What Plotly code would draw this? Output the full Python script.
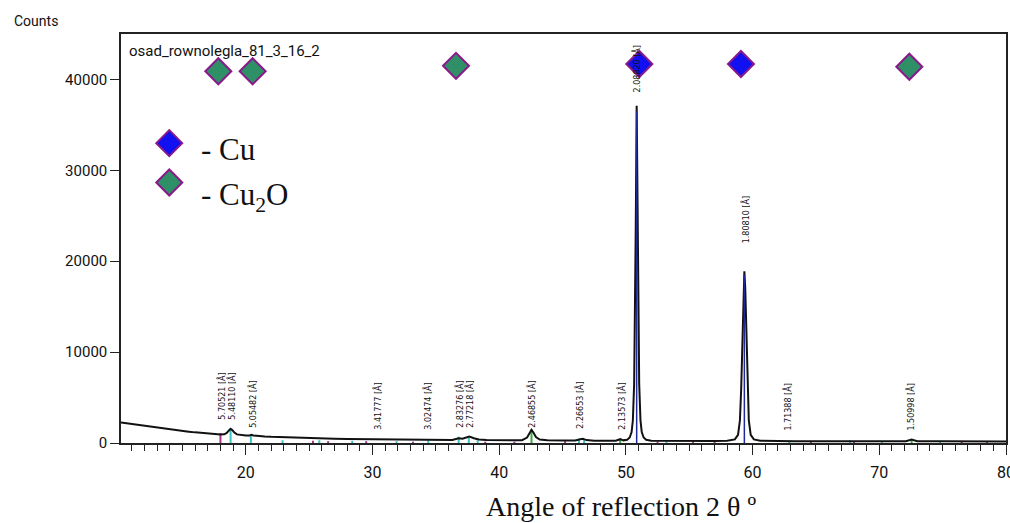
import plotly.graph_objects as go

# ---------------- data ----------------
two_theta = [10.15, 10.5, 11, 11.5, 12, 12.5, 13, 13.5, 14, 14.5, 15, 15.5, 16, 16.5, 17, 17.5,
             18.0, 18.3, 18.5, 18.65, 18.8, 18.95, 19.1, 19.3, 19.6, 20.0, 20.3, 20.45, 20.6,
             21.0, 21.5, 22, 23, 24, 25, 26, 27, 28, 29, 30, 31, 32, 33, 34, 34.4, 34.8, 35.5,
             36.3, 36.8, 37.1, 37.4, 37.65, 38.0, 38.4, 39, 40, 41, 41.8, 42.2, 42.4, 42.55,
             42.7, 42.9, 43.2, 43.8, 45, 46.0, 46.4, 46.6, 46.9, 47.5, 48.5, 49.2, 49.55, 49.8,
             50.1, 50.3, 50.45, 50.55, 50.65, 50.72, 50.78, 50.85, 50.92, 50.98, 51.05, 51.15,
             51.25, 51.4, 51.6, 52, 53, 54, 55, 56, 57, 58, 58.6, 58.85, 59.0, 59.1, 59.2,
             59.28, 59.35, 59.42, 59.5, 59.6, 59.7, 59.85, 60.1, 60.6, 61.5, 62.5, 62.9, 63.3,
             65, 67, 69, 71, 72.1, 72.55, 73.0, 75, 77, 79, 80]
counts = [2250, 2180, 2080, 1980, 1880, 1780, 1680, 1590, 1500, 1410, 1330, 1250, 1170, 1100, 1030, 970,
          940, 960, 1100, 1350, 1550, 1400, 1150, 950, 860, 820, 830, 900, 830,
          760, 720, 680, 620, 570, 530, 490, 460, 430, 410, 390, 370, 355, 340, 330, 360, 325, 320,
          330, 520, 480, 600, 700, 520, 380, 320, 300, 290, 310, 600, 1100, 1450,
          1150, 650, 380, 290, 270, 270, 420, 460, 320, 260, 250, 260, 420, 290,
          350, 600, 1200, 2500, 6500, 13000, 24000, 37100, 24000, 13000, 6500, 2500,
          1200, 600, 350, 260, 240, 230, 225, 220, 220, 240, 400, 900, 2500, 6000, 12000,
          17000, 18900, 17000, 12000, 6000, 2500, 900, 400, 250, 220, 210, 240, 205,
          200, 195, 190, 185, 190, 370, 190, 180, 175, 170, 165]

# reference-pattern sticks (position, height) per colour group
stick_magenta_pos = [18.0, 25.3, 26.5, 29.5, 33.2, 38.9, 41.2, 45.2, 52.5, 55.3, 57.0, 64.6, 68.0, 76.5, 78.5]
stick_magenta_h = [1100, 250, 200, 200, 150, 150, 150, 200, 150, 150, 150, 150, 150, 150, 150]
stick_cyan_pos = [18.8, 20.4, 22.9, 25.8, 28.4, 31.9, 34.4, 36.8, 37.6, 38.3, 46.3, 46.7, 53.2, 62.9, 67.7, 70.2, 74.8]
stick_cyan_h = [1500, 900, 300, 300, 250, 200, 300, 700, 600, 300, 500, 400, 200, 250, 300, 200, 200]
stick_green_pos = [42.55, 49.55, 72.55]
stick_green_h = [1500, 400, 400]
stick_blue_pos = [50.85, 59.35]
stick_blue_h = [36500, 18500]

# phase markers
cu_x = [51.06, 59.08]
cu_y = [41700, 41700]
cu2o_x = [17.83, 20.54, 36.59, 72.37]
cu2o_y = [40900, 40900, 41500, 41400]

# d-spacing peak labels
label_x = [18.12, 18.91, 20.57, 30.43, 34.38, 36.91, 37.70, 42.59, 46.38, 49.69, 50.87, 59.40, 62.79, 72.50]
label_y = [2400, 2400, 1400, 1300, 1300, 1400, 1400, 1400, 1300, 1300, 38400, 21700, 1200, 1200]
label_text = ["5.70521 [Å]", "5.48110 [Å]", "5.05482 [Å]", "3.41777 [Å]", "3.02474 [Å]",
              "2.83276 [Å]", "2.77218 [Å]", "2.46855 [Å]", "2.26653 [Å]", "2.13573 [Å]",
              "2.08820 [Å]", "1.80810 [Å]", "1.71388 [Å]", "1.50998 [Å]"]

# legend key
legend_names = ["- Cu", "- Cu<sub>2</sub>O"]
legend_marker_x = [13.96, 13.96]
legend_marker_y = [32990, 28660]
legend_text_x = [16.3, 16.3]
legend_text_y = [32300, 27100]

x_ticks = [20, 30, 40, 50, 60, 70, 80]
y_ticks = [0, 10000, 20000, 30000, 40000]

# ---------------- styling ----------------
SANS = "Roboto, Liberation Sans, sans-serif"
SERIF = "Liberation Serif, Times New Roman, serif"
BLUE = "#1010f0"
GREEN = "#2f9068"
PURPLE = "#8a1a8a"


def sticks(pos, h):
    xs, ys = [], []
    for p, v in zip(pos, h):
        xs += [p, p, None]
        ys += [0, v, None]
    return xs, ys


fig = go.Figure()
for pos, h, col in [(stick_magenta_pos, stick_magenta_h, "#a8308c"),
                    (stick_cyan_pos, stick_cyan_h, "#3cc4c4"),
                    (stick_green_pos, stick_green_h, "#3aa845")]:
    sx, sy = sticks(pos, h)
    fig.add_trace(go.Scatter(x=sx, y=sy, mode="lines", line=dict(color=col, width=2),
                             hoverinfo="skip", showlegend=False))

fig.add_trace(go.Scatter(x=two_theta, y=counts, mode="lines",
                         line=dict(color="#111111", width=2), showlegend=False))

sx, sy = sticks(stick_blue_pos, stick_blue_h)
fig.add_trace(go.Scatter(x=sx, y=sy, mode="lines", line=dict(color="#1c2a9c", width=1.5),
                         hoverinfo="skip", showlegend=False))

fig.add_trace(go.Scatter(x=cu2o_x, y=cu2o_y, mode="markers", showlegend=False,
                         marker=dict(symbol="diamond", size=20, color=GREEN,
                                     line=dict(color=PURPLE, width=2))))
fig.add_trace(go.Scatter(x=cu_x, y=cu_y, mode="markers", showlegend=False,
                         marker=dict(symbol="diamond", size=20, color=BLUE,
                                     line=dict(color=PURPLE, width=2))))
fig.add_trace(go.Scatter(x=legend_marker_x, y=legend_marker_y, mode="markers", showlegend=False,
                         marker=dict(symbol="diamond", size=20, color=[BLUE, GREEN],
                                     line=dict(color=PURPLE, width=2))))

annotations = []
for lx, ly, lt in zip(label_x, label_y, label_text):
    annotations.append(dict(x=lx, y=ly, xref="x", yref="y", text=lt, showarrow=False,
                            textangle=-90, xanchor="center", yanchor="bottom",
                            font=dict(family="DejaVu Sans, sans-serif", size=8, color="#111")))
for tx, ty, nm in zip(legend_text_x, legend_text_y, legend_names):
    annotations.append(dict(x=tx, y=ty, xref="x", yref="y", text=nm, showarrow=False,
                            xanchor="left", yanchor="middle",
                            font=dict(family=SERIF, size=31, color="#111")))

W, H = 1010, 523
L, R, T, B = 121, 4, 34, 80
pw, ph = W - L - R, H - T - B


def px(xp):
    return (xp - L) / pw


def py(yp):
    return (H - B - yp) / ph


annotations.append(dict(x=px(12), y=py(21), xref="paper", yref="paper", text="Counts",
                        showarrow=False, xanchor="left", yanchor="middle",
                        font=dict(family=SANS, size=14, color="#111")))
annotations.append(dict(x=px(127), y=py(51), xref="paper", yref="paper",
                        text="osad_rownolegla_81_3_16_2", showarrow=False,
                        xanchor="left", yanchor="middle",
                        font=dict(family=SANS, size=15, color="#111")))
annotations.append(dict(x=px(621), y=py(506), xref="paper", yref="paper",
                        text="Angle of reflection 2 θ º", showarrow=False,
                        xanchor="center", yanchor="middle", bgcolor="white",
                        font=dict(family=SERIF, size=28, color="#111")))

fig.update_layout(
    width=W, height=H,
    margin=dict(l=L, r=R, t=T, b=B, pad=0, autoexpand=False),
    paper_bgcolor="white", plot_bgcolor="white",
    showlegend=False,
    annotations=annotations,
    xaxis=dict(range=[10.15, 80], tickvals=x_ticks, ticktext=[str(v) for v in x_ticks],
               automargin=False,
               showgrid=False, zeroline=False, showline=True, linecolor="#222", linewidth=1.5,
               mirror=True, ticks="outside", ticklen=10, tickwidth=1.2, tickcolor="#222",
               ticklabeloverflow="allow", ticklabelstandoff=4,
               minor=dict(dtick=1, tick0=0, ticks="outside", ticklen=6, tickwidth=1.2, tickcolor="#222"),
               tickfont=dict(family=SANS, size=16, color="#111")),
    yaxis=dict(range=[0, 45000], tickvals=y_ticks, ticktext=[str(v) for v in y_ticks],
               automargin=False,
               showgrid=False, zeroline=False, showline=True, linecolor="#222", linewidth=1.5,
               mirror=True, ticks="outside", ticklen=9, tickwidth=1.2, tickcolor="#222",
               tickfont=dict(family=SANS, size=15, color="#111")),
)

fig.write_html("out.html", config={"displayModeBar": False},
               post_script="document.body.style.margin='0';document.body.style.overflow='hidden';")
